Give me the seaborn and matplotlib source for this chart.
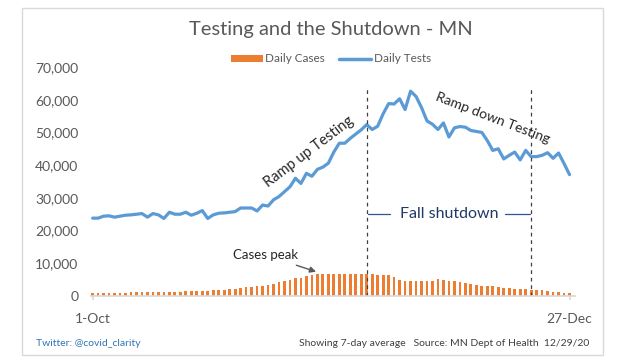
import numpy as np
import pandas as pd
import matplotlib
matplotlib.use("Agg")
import matplotlib.pyplot as plt
from matplotlib.patches import Patch, Rectangle
from matplotlib.lines import Line2D
import seaborn as sns

# Daily values, 1-Oct to 27-Dec 2020 (7-day average)
dates = pd.date_range("2020-10-01", "2020-12-27", freq="D")
tick_labels = ["1-Oct", "27-Dec"]

daily_tests = [
    23.8, 23.8, 24.4, 24.5, 24.1, 24.4, 24.7, 24.8, 25.0, 25.2,
    24.1, 25.2, 24.8, 23.7, 25.6, 25.0, 25.0, 25.6, 24.7, 25.3,
    26.1, 23.7, 24.8, 25.3, 25.4, 25.6, 25.8, 26.9, 26.9, 26.9,
    26.0, 27.8, 27.5, 29.4, 30.4, 31.9, 33.4, 36.0, 34.4, 37.5,
    36.6, 38.7, 39.4, 40.6, 44.0, 46.7, 46.7, 48.2, 49.5, 50.8,
    52.4, 50.9, 51.9, 55.7, 58.8, 58.7, 60.3, 57.0, 62.6, 61.0,
    57.6, 53.5, 52.5, 50.9, 52.9, 48.6, 51.4, 51.8, 51.6, 50.6,
    50.3, 50.0, 47.5, 44.5, 45.0, 41.9, 43.0, 44.0, 41.6, 44.5,
    42.6, 42.6, 43.0, 43.8, 42.1, 43.7, 40.5, 37.1,
]
daily_cases = [
    1.0, 1.0, 1.0, 1.0, 1.0, 1.0, 1.0, 1.2, 1.2, 1.2,
    1.2, 1.2, 1.2, 1.2, 1.2, 1.2, 1.2, 1.4, 1.5, 1.5,
    1.5, 1.6, 1.8, 1.8, 1.8, 2.1, 2.2, 2.5, 2.7, 2.9,
    3.0, 3.2, 3.5, 3.7, 4.2, 4.5, 4.8, 5.4, 5.6, 6.1,
    6.3, 6.8, 6.6, 6.6, 6.6, 6.6, 6.6, 6.6, 6.6, 6.6,
    6.6, 6.6, 6.3, 6.3, 6.3, 5.9, 4.9, 4.6, 4.6, 4.6,
    4.6, 4.6, 4.6, 5.3, 4.9, 4.6, 4.6, 4.3, 4.0, 3.7,
    3.4, 3.1, 3.1, 3.1, 2.8, 2.5, 2.5, 2.2, 2.2, 2.2,
    1.9, 1.9, 1.9, 1.6, 1.3, 1.3, 1.0, 1.0,
]

df = pd.DataFrame({
    "day": np.arange(len(dates)),
    "tests": np.array(daily_tests) * 1000,
    "cases": np.array(daily_cases) * 1000,
})

shutdown_start = 50   # 20-Nov
shutdown_end = 80     # 20-Dec
peak_day = 41

orange = "#ED7D31"
blue = "#5B9BD5"
grey = "#595959"

sns.set_theme(style="white")
plt.rcParams["font.family"] = ["Lato", "DejaVu Sans"]

fig = plt.figure(figsize=(6.21, 3.62), dpi=100)
ax = fig.add_axes([91 / 621, 1 - 296 / 362, (575 - 91) / 621, (296 - 67) / 362])

sns.barplot(data=df, x="day", y="cases", color=orange, width=0.5,
            saturation=1, edgecolor=orange, linewidth=0, ax=ax)
sns.lineplot(data=df, x="day", y="tests", color=blue, linewidth=2.3, ax=ax)

ax.set_xlim(-0.3, 88.0)
ax.set_ylim(0, 70000)
ax.set_yticks(range(0, 70001, 10000))
ax.set_yticklabels([f"{v:,}" for v in range(0, 70001, 10000)])
ax.set_xticks([0, len(dates) - 1])
ax.set_xticklabels(tick_labels)
ax.set_xlabel("")
ax.set_ylabel("")
for s in ["left", "right", "top"]:
    ax.spines[s].set_visible(False)
ax.spines["bottom"].set_color("#D9D9D9")
ax.tick_params(axis="y", length=0, pad=9, labelsize=10, labelcolor=grey)
ax.tick_params(axis="x", length=3, color="#D9D9D9", pad=9, labelsize=10,
               labelcolor=grey, bottom=True)

# shutdown markers
for d in [shutdown_start, shutdown_end]:
    ax.axvline(d, ymin=0, ymax=(296 - 87) / 229, color="#404040",
               linestyle=(0, (3, 3)), linewidth=0.9)

ax.plot([shutdown_start + 0.3, shutdown_start + 4.3], [25000, 25000],
        color="#2F5597", linewidth=0.9)
ax.plot([shutdown_end - 4.7, shutdown_end - 0.3], [25000, 25000],
        color="#2F5597", linewidth=0.9)
ax.text((shutdown_start + shutdown_end) / 2, 25000, "Fall shutdown",
        ha="center", va="center", fontsize=11.5, color="#203864")

ax.text(39.5, 44000, "Ramp up Testing", rotation=37, ha="center",
        va="center", fontsize=10.5, color="#262626")
ax.text(73.0, 54500, "Ramp down Testing", rotation=-21, ha="center",
        va="center", fontsize=10, color="#262626")
ax.annotate("Cases peak", xy=(peak_day, 7300), xytext=(31.5, 12500),
            ha="center", va="center", fontsize=9.5, color="#262626",
            arrowprops=dict(arrowstyle="-|>", color="#595959", lw=1.0,
                            shrinkA=2, shrinkB=1, mutation_scale=9))

fig.suptitle("Testing and the Shutdown - MN", x=331 / 621, y=1 - 29 / 362,
             va="center", fontsize=14.5, color=grey)

handles = [Patch(facecolor=orange, edgecolor="none"),
           Line2D([0], [0], color=blue, linewidth=2.5)]
fig.legend(handles, ["Daily Cases", "Daily Tests"], loc="center",
           bbox_to_anchor=(331 / 621, 1 - 59 / 362), ncol=2, frameon=False,
           fontsize=8.5, handlelength=2.7, handleheight=0.6,
           handletextpad=0.2, columnspacing=1.2, labelcolor=grey)

fig.text(36 / 621, 1 - 344 / 362, "Twitter: @covid_clarity", fontsize=7.5,
         color="#2E75B6", va="center")
fig.text(589 / 621, 1 - 344 / 362,
         "Showing 7-day average   Source: MN Dept of Health  12/29/20",
         fontsize=7.5, color="#404040", va="center", ha="right")

fig.patches.append(Rectangle((22 / 621, 1 - 355 / 362), (603 - 22) / 621,
                             (355 - 8) / 362, transform=fig.transFigure,
                             fill=False, edgecolor="#D9D9D9", linewidth=1))

fig.savefig("out.png", dpi=100)
